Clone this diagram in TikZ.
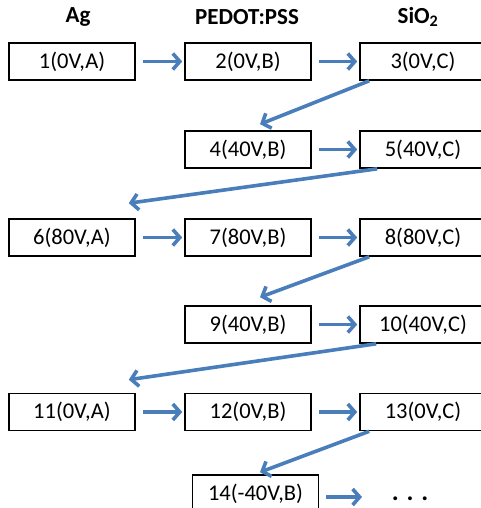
\documentclass[tikz,border=0pt]{standalone}
\usepackage{fontspec}
\setmainfont{Carlito}
\usetikzlibrary{arrows.meta,calc}
\definecolor{arrowblue}{HTML}{4A7EBB}
\begin{document}
\begin{tikzpicture}[x=1pt,y=-1pt,
 box/.style={draw=black,line width=1.6pt,minimum width=126pt,minimum height=37pt,inner sep=0pt,font=\fontsize{22.5}{25}\selectfont},
 hdr/.style={font=\bfseries\fontsize{23}{25}\selectfont},
 conn/.style={draw=arrowblue,line width=3.6pt,-{Straight Barb[length=7pt,width=16pt]}},
 hconn/.style={conn,shorten <=7pt,shorten >=2pt}]
\useasboundingbox (0,0) rectangle (481,508);
\clip (0,0) rectangle (481,508);
% headers
\node[hdr] (hA) at (78,17) {Ag};
\node[hdr] (hB) at (247,17) {PEDOT:PSS};
\node[hdr] (hC) at (418,17) {SiO\textsubscript{2}};
% boxes
\node[box] (n1) at (72,61.5) {1(0V,A)};
\node[box] (n2) at (248,61.5) {2(0V,B)};
\node[box] (n3) at (423,61.5) {3(0V,C)};
\node[box] (n4) at (248,149.5) {4(40V,B)};
\node[box] (n5) at (423,149.5) {5(40V,C)};
\node[box] (n6) at (72,237.5) {6(80V,A)};
\node[box] (n7) at (248,237.5) {7(80V,B)};
\node[box] (n8) at (423,237.5) {8(80V,C)};
\node[box] (n9) at (248,324.5) {9(40V,B)};
\node[box] (n10) at (423,324.5) {10(40V,C)};
\node[box] (n11) at (72,412) {11(0V,A)};
\node[box] (n12) at (248,412) {12(0V,B)};
\node[box] (n13) at (423,412) {13(0V,C)};
\node[box] (n14) at (255.5,493.5) {14(-40V,B)};
\node[font=\fontsize{26}{28}\selectfont\bfseries,anchor=base,inner sep=0pt] (dots) at (410,500.5) {. . .};
\coordinate (d) at (362,497);
% connectors
\draw[hconn] (n1) -- (n2);
\draw[hconn] (n2) -- (n3);
\draw[hconn] (n4) -- (n5);
\draw[hconn] (n6) -- (n7);
\draw[hconn] (n7) -- (n8);
\draw[hconn] (n9) -- (n10);
\draw[hconn] (n11) -- (n12);
\draw[hconn] (n12) -- (n13);
\draw[conn,shorten <=7pt] ($(n14.east)+(0,3.5)$) -- (d);
\draw[conn] ($(n3.south west)+(10,0)$) -- ($(n4.north)+(12,-6)$);
\draw[conn] ($(n5.south west)+(18,0)$) -- ($(n6.north east)+(-7,-15)$);
\draw[conn] ($(n8.south west)+(10,0)$) -- ($(n9.north)+(12,-8)$);
\draw[conn] ($(n10.south west)+(17,0)$) -- ($(n11.north east)+(-7,-13)$);
\draw[conn] ($(n13.south west)+(10,0)$) -- ($(n14.north)+(4.5,-2)$);
\end{tikzpicture}
\end{document}
